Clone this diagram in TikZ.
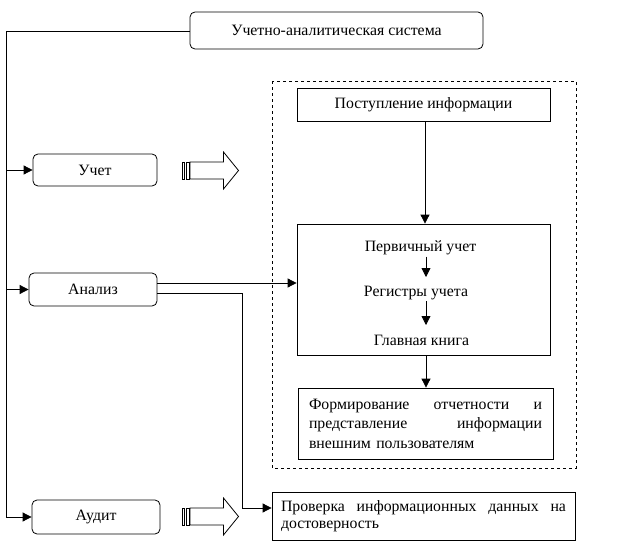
\documentclass[tikz,border=0pt]{standalone}
\usepackage{fontspec}
\setmainfont{Liberation Serif}
\usetikzlibrary{arrows.meta}
\begin{document}
\begin{tikzpicture}[x=1pt,y=-1pt,
  line width=0.8pt,
  every node/.style={font=\fontsize{15.8}{18}\selectfont, inner sep=0pt},
  rbox/.style={draw, rounded corners=5pt, minimum width=#1},
  sbox/.style={draw},
  arr/.style={-{Triangle[length=9pt,width=9pt]}},
  hollow/.style={draw, fill=white, line width=0.8pt}
]
\useasboundingbox (0,0) rectangle (633,546);

% dashed frame
\draw[dashed, line width=0.8pt] (272,81) rectangle (576,468);

% rounded boxes
\node[rbox=293pt, minimum height=37pt] (top) at (336.5,30.5) {Учетно-аналитическая система};
\node[rbox=124pt, minimum height=32pt] (uchet) at (95,170) {Учет};
\node[rbox=128pt, minimum height=33pt] (analiz) at (93,289.5) {Анализ};
\node[rbox=128pt, minimum height=34pt] (audit) at (96,517) {Аудит};

% right boxes
\node[sbox, minimum width=253pt, minimum height=33pt] (post) at (423.5,104.5) {Поступление информации};
\node[sbox, minimum width=253pt, minimum height=131pt] (inner) at (423.5,289.5) {};
\node (perv) at (420.5,248) {Первичный учет};
\node (reg) at (416,293) {Регистры учета};
\node (glav) at (421.5,340) {Главная книга};

\node[sbox, minimum width=255pt, minimum height=71pt, text width=233pt, align=left,
      font=\fontsize{15.8}{19.5}\selectfont] (form) at (425.5,423.5)
  {Формирование\hfill отчетности\hfill и\\ представление\hfill информации\\ внешним пользователям};

\node[sbox, minimum width=303pt, minimum height=48pt, text width=285pt, align=left,
      font=\fontsize{15.8}{17}\selectfont] (prov) at (423.5,516)
  {Проверка\hfill информационных\hfill данных\hfill на\\ достоверность};

% trunk
\coordinate (t0) at (6,31);
\coordinate (t1) at (6,170);
\coordinate (t2) at (6,289.5);
\coordinate (t3) at (6,517);
\draw (top.west |- t0) -- (t0) -- (t3);
\draw[arr] (t1) -- (uchet.west);
\draw[arr] (t2) -- (analiz.west);
\draw[arr] (t3) -- (audit.west);

% vertical flow
\draw[arr] (post.south -| 425,0) -- (inner.north -| 425,0);
\draw[arr] (perv.south -| 426,0) ++(0,1) -- (426,277);
\draw[arr] (reg.south -| 426,0) ++(0,1) -- (426,325);
\draw[arr] (inner.south -| 426,0) -- (form.north -| 426,0);

% analysis connectors
\coordinate (a1) at (157,283);
\coordinate (a2) at (157,293);
\coordinate (b1) at (242,293);
\coordinate (b2) at (242,508);
\draw[arr] (a1) -- (inner.west |- a1);
\draw[arr] (a2) -- (b1) -- (b2) -- (prov.west |- b2);

% hollow arrows
\foreach \yc in {170.5,516.5}{
  \draw[hollow] (182,\yc-8.5) rectangle (184.5,\yc+8.5);
  \draw[hollow] (186.5,\yc-8.5) rectangle (189,\yc+8.5);
  \draw[hollow] (190,\yc-8.5) -- (223.5,\yc-8.5) -- (223.5,\yc-18.5) -- (238.5,\yc)
     -- (223.5,\yc+18.5) -- (223.5,\yc+8.5) -- (190,\yc+8.5) -- cycle;
}
\end{tikzpicture}
\end{document}
